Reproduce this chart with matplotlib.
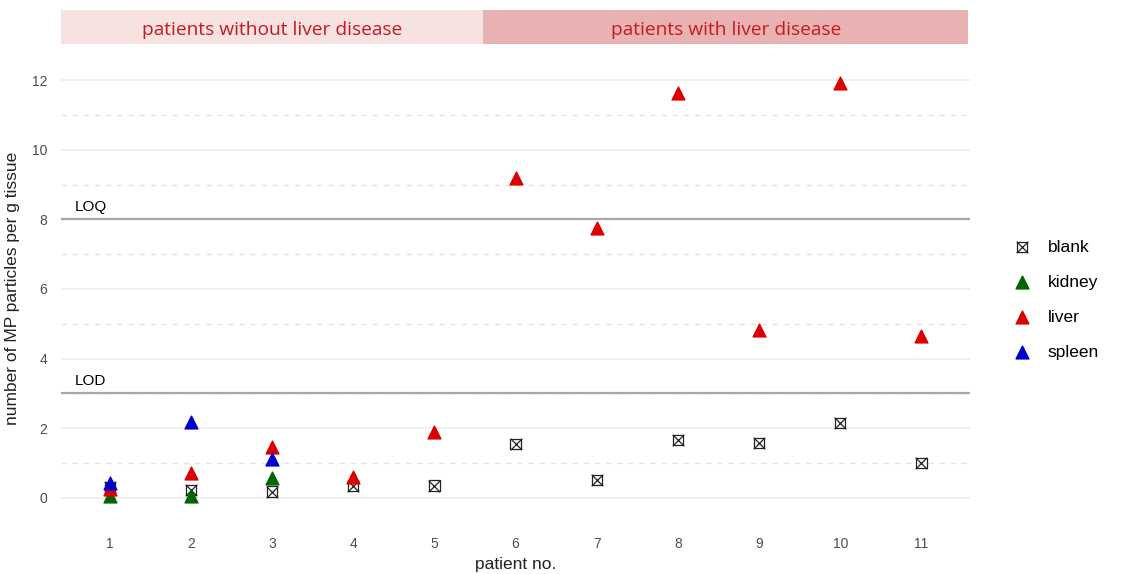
import numpy as np
import matplotlib.pyplot as plt
from matplotlib.legend_handler import HandlerTuple

# data
patients = [1, 2, 3, 4, 5, 6, 7, 8, 9, 10, 11]
blank = [0.3, 0.23, 0.18, 0.33, 0.35, 1.55, 0.52, 1.67, 1.58, 2.15, 1.0]
kidney_x = [1, 2, 3]
kidney = [0.05, 0.05, 0.57]
liver = [0.25, 0.7, 1.47, 0.6, 1.9, 9.19, 7.75, 11.63, 4.82, 11.92, 4.65]
spleen_x = [1, 2, 3]
spleen = [0.42, 2.17, 1.12]
LOD = 3
LOQ = 8

plt.rcParams['font.family'] = ['Liberation Sans', 'DejaVu Sans']

fig = plt.figure(figsize=(11.21, 5.74), dpi=100)
ax = fig.add_axes([0.0544, 0.103, 0.811, 0.789])
ax.set_xlim(0.4, 11.6)
ax.set_ylim(-0.49, 12.52)

# grid like ggplot minimal
for y in range(0, 13, 2):
    ax.axhline(y, color='#ebebeb', lw=1.1, zorder=0)
for y in range(1, 13, 2):
    ax.axhline(y, color='#e3e3e3', lw=1.0, ls=(0, (4, 4)), zorder=0)
for s in ax.spines.values():
    s.set_visible(False)

ax.axhline(LOQ, color='#a6a6a6', lw=1.6, zorder=1)
ax.axhline(LOD, color='#a6a6a6', lw=1.6, zorder=1)
ax.text(0.57, LOQ + 0.15, 'LOQ', fontsize=11, va='bottom', ha='left')
ax.text(0.57, LOD + 0.15, 'LOD', fontsize=11, va='bottom', ha='left')

b1 = ax.scatter(patients, blank, marker='s', s=55, facecolors='none', edgecolors='#222222', linewidths=0.9, zorder=3)
b2 = ax.scatter(patients, blank, marker='x', s=70, color='#222222', linewidths=0.9, zorder=3)
k = ax.scatter(kidney_x, kidney, marker='^', s=85, color='#006400', zorder=4)
l = ax.scatter(patients, liver, marker='^', s=85, color='#dd0000', zorder=5)
sp = ax.scatter(spleen_x, spleen, marker='^', s=85, color='#0000cc', zorder=6)

ax.set_xticks(patients)
ax.set_yticks(range(0, 13, 2))
ax.tick_params(length=0, labelsize=10, labelcolor='#4d4d4d')
ax.tick_params(axis='x', pad=16)
ax.tick_params(axis='y', pad=10)
ax.set_xlabel('patient no.', fontsize=12.5, color='#222222', labelpad=4)
ax.set_ylabel('number of MP particles per g tissue', fontsize=12.5, color='#222222', labelpad=8)

leg = ax.legend([(b1, b2), k, l, sp], ['blank', 'kidney', 'liver', 'spleen'],
                handler_map={tuple: HandlerTuple(ndivide=1, pad=0)},
                loc='center left', bbox_to_anchor=(1.03, 0.475), frameon=False,
                fontsize=12.5, handletextpad=1.0, labelspacing=1.15, handlelength=1.0)

# strip on top
strip = fig.add_axes([0.0544, 0.923, 0.811, 0.059])
strip.set_xlim(0.4, 11.6)
strip.set_ylim(0, 1)
strip.axis('off')
strip.axvspan(0.38, 5.6, color='#f7e2e2', lw=0)
strip.axvspan(5.6, 11.58, color='#e9b2b2', lw=0)
strip.text(3.0, 0.47, 'patients without liver disease', color='#c8191e', fontsize=13.8,
           ha='center', va='center_baseline', family=['Open Sans', 'DejaVu Sans'])
strip.text(8.6, 0.47, 'patients with liver disease', color='#c8191e', fontsize=13.8,
           ha='center', va='center_baseline', family=['Open Sans', 'DejaVu Sans'])

fig.savefig('out.png', dpi=100)
